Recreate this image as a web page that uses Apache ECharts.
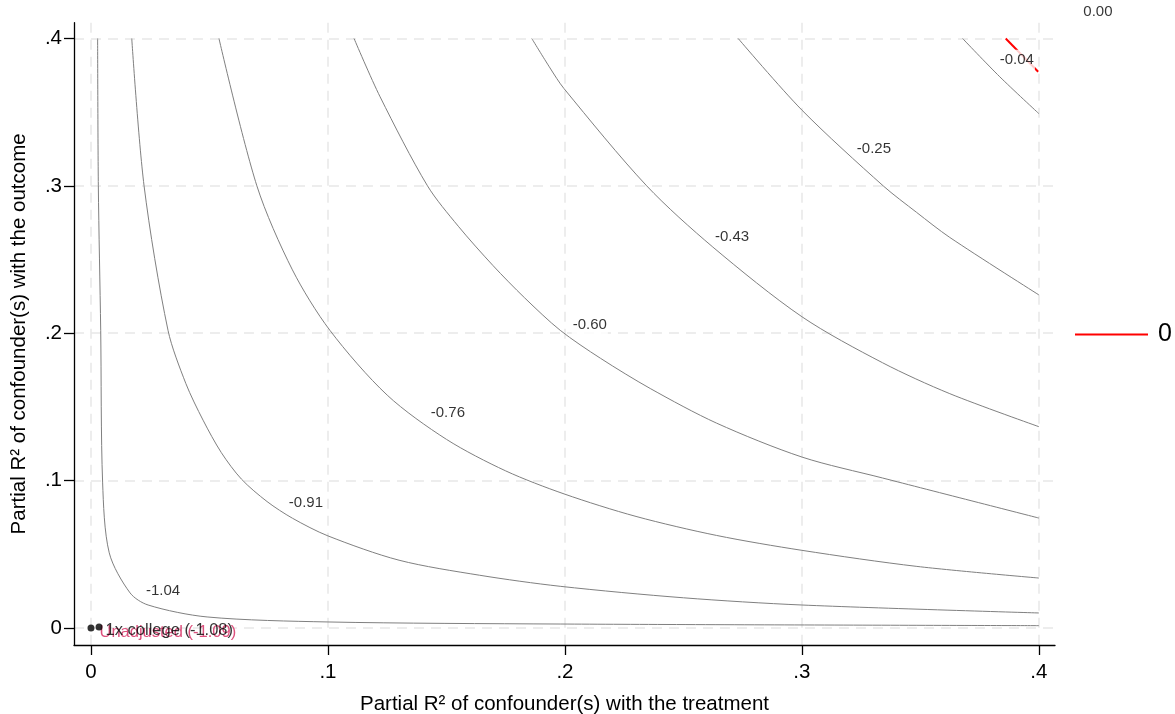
<!DOCTYPE html>
<html>
<head>
<meta charset="utf-8">
<script src="https://cdn.jsdelivr.net/npm/echarts@6/dist/echarts.min.js"></script>
<style>html,body{margin:0;padding:0;background:#fff}#c{width:1175px;height:714px}</style>
</head>
<body>
<div id="c"></div>
<script>
// ---- data ----
const xTicks = [0, 0.1, 0.2, 0.3, 0.4];
const yTicks = [0, 0.1, 0.2, 0.3, 0.4];
const xTickLabels = ['0', '.1', '.2', '.3', '.4'];
const yTickLabels = ['0', '.1', '.2', '.3', '.4'];

const contourNames = ['-1.04', '-0.91', '-0.76', '-0.60', '-0.43', '-0.25', '-0.04'];
const cM104 = [[0.0028,0.400],[0.0031,0.300],[0.0041,0.202],[0.0049,0.099],[0.0077,0.051],[0.0165,0.0238],[0.0241,0.0156],[0.049,0.0075],[0.100,0.0041],[0.198,0.0027],[0.400,0.0016]];
const cM091 = [[0.0172,0.400],[0.0224,0.300],[0.0325,0.202],[0.040,0.166],[0.0473,0.141],[0.055,0.119],[0.0635,0.101],[0.0743,0.0858],[0.085,0.0745],[0.100,0.0625],[0.130,0.046],[0.164,0.0358],[0.198,0.0283],[0.250,0.0205],[0.300,0.0156],[0.400,0.0102]];
const cM076 = [[0.054,0.400],[0.070,0.300],[0.085,0.243],[0.1008,0.202],[0.125,0.158],[0.150,0.128],[0.175,0.1066],[0.1996,0.091],[0.230,0.0757],[0.264,0.0628],[0.300,0.0527],[0.3485,0.0418],[0.400,0.0339]];
const cM060 = [[0.111,0.400],[0.122,0.3604],[0.142,0.300],[0.155,0.2726],[0.1696,0.246],[0.183,0.224],[0.198,0.202],[0.215,0.183],[0.236,0.1625],[0.264,0.139],[0.300,0.116],[0.334,0.1018],[0.400,0.0746]];
const cM043 = [[0.186,0.400],[0.1937,0.380],[0.1996,0.366],[0.2345,0.300],[0.2624,0.2585],[0.300,0.2112],[0.334,0.180],[0.3624,0.159],[0.400,0.1366]];
const cM025 = [[0.2731,0.400],[0.300,0.3514],[0.3343,0.300],[0.3484,0.282],[0.3624,0.265],[0.400,0.226]];
const cM004 = [[0.3678,0.400],[0.3835,0.374],[0.400,0.349]];
const cZero = [[0.386,0.400],[0.3997,0.3774]];

const contourLabelText = ['-1.04', '-0.91', '-0.76', '-0.60', '-0.43', '-0.25', '-0.04', '0.00'];
const contourLabelX = [0.0304, 0.0907, 0.1506, 0.2105, 0.2705, 0.3304, 0.3907, 0.4249];
const contourLabelY = [0.0251, 0.0848, 0.1459, 0.2056, 0.2653, 0.3250, 0.3853, 0.4180];

const benchNames = ['Unadjusted (-1.09)', '1x college (-1.08)'];
const benchX = [0, 0.0034];
const benchY = [0, 0.0007];

const legendLabel = '0';

// ---- chart ----
const FONT = '"Liberation Sans", Arial, Helvetica, sans-serif';
const contours = [cM104, cM091, cM076, cM060, cM043, cM025, cM004];

const series = contours.map((d, i) => ({
  name: contourNames[i],
  type: 'line',
  data: d,
  symbol: 'none',
  smooth: 0.3,
  lineStyle: { color: '#808080', width: 1 },
  itemStyle: { color: '#808080' },
  silent: true,
  z: 2
}));

series.push({
  name: legendLabel,
  type: 'line',
  data: cZero,
  symbol: 'none',
  lineStyle: { color: '#ff0000', width: 2 },
  itemStyle: { color: '#ff0000' },
  silent: true,
  z: 3
});

series.push({
  name: 'labels',
  type: 'scatter',
  data: contourLabelX.map((x, i) => ({ value: [x, contourLabelY[i]], name: contourLabelText[i] })),
  symbolSize: 0,
  clip: false,
  silent: true,
  z: 5,
  label: {
    show: true,
    position: 'inside',
    formatter: p => p.name,
    color: '#000',
    fontFamily: FONT,
    fontSize: 15,
    backgroundColor: '#fff',
    padding: [3, 1]
  }
});

series.push({
  name: 'bench0',
  type: 'scatter',
  data: [{ value: [benchX[0], benchY[0]], name: benchNames[0] }],
  symbolSize: 7,
  itemStyle: { color: '#000' },
  clip: false,
  silent: true,
  z: 6,
  label: {
    show: true, position: 'right', distance: 5, offset: [0, 4],
    formatter: p => p.name, color: '#d4245c', fontFamily: FONT, fontSize: 16.5
  }
});
series.push({
  name: 'bench1',
  type: 'scatter',
  data: [{ value: [benchX[1], benchY[1]], name: benchNames[1] }],
  symbolSize: 7,
  itemStyle: { color: '#000' },
  clip: false,
  silent: true,
  z: 7,
  label: {
    show: true, position: 'right', distance: 3, offset: [0, 3],
    formatter: p => p.name, color: '#000', fontFamily: FONT, fontSize: 16.5
  }
});

const gridLine = { show: true, lineStyle: { color: '#e8e8e8', width: 1.5, type: [10, 7] } };

const option = {
  animation: false,
  backgroundColor: '#fff',
  textStyle: { fontFamily: FONT },
  grid: { left: 74, right: 120, top: 22.7, bottom: 69, containLabel: false, outerBoundsMode: 'none' },
  legend: {
    data: [{ name: legendLabel, icon: 'rect' }],
    left: 1075, top: 322, orient: 'vertical', padding: 0,
    itemWidth: 73, itemHeight: 2, itemGap: 10,
    textStyle: { fontSize: 25, color: '#000', fontFamily: FONT, padding: [0, 0, 0, 5] },
    selectedMode: false
  },
  xAxis: {
    type: 'value',
    min: -0.00717, max: 0.4068,
    name: 'Partial R\u00B2 of confounder(s) with the treatment',
    nameLocation: 'middle', nameGap: 49,
    nameTextStyle: { fontSize: 20.5, color: '#000', fontFamily: FONT },
    axisLine: { show: true, onZero: false, lineStyle: { color: '#000', width: 1.3 } },
    axisTick: { show: true, length: 10, customValues: xTicks, lineStyle: { color: '#000', width: 1.3 } },
    axisLabel: {
      customValues: xTicks, margin: 17, fontSize: 20.5, color: '#000', fontFamily: FONT,
      formatter: v => { const i = xTicks.findIndex(t => Math.abs(t - v) < 1e-9); return i >= 0 ? xTickLabels[i] : ''; }
    },
    splitLine: gridLine
  },
  yAxis: {
    type: 'value',
    min: -0.01153, max: 0.4107,
    name: 'Partial R\u00B2 of confounder(s) with the outcome',
    nameLocation: 'middle', nameGap: 44, nameRotate: 90,
    nameTextStyle: { fontSize: 20.5, color: '#000', fontFamily: FONT },
    axisLine: { show: true, onZero: false, lineStyle: { color: '#000', width: 1.3 } },
    axisTick: { show: true, length: 10, customValues: yTicks, lineStyle: { color: '#000', width: 1.3 } },
    axisLabel: {
      customValues: yTicks, margin: 12, fontSize: 20.5, color: '#000', fontFamily: FONT,
      formatter: v => { const i = yTicks.findIndex(t => Math.abs(t - v) < 1e-9); return i >= 0 ? yTickLabels[i] : ''; }
    },
    splitLine: gridLine
  },
  series: series
};

const chart = echarts.init(document.getElementById('c'), null, { renderer: 'canvas' });
chart.setOption(option);
</script>
</body>
</html>
